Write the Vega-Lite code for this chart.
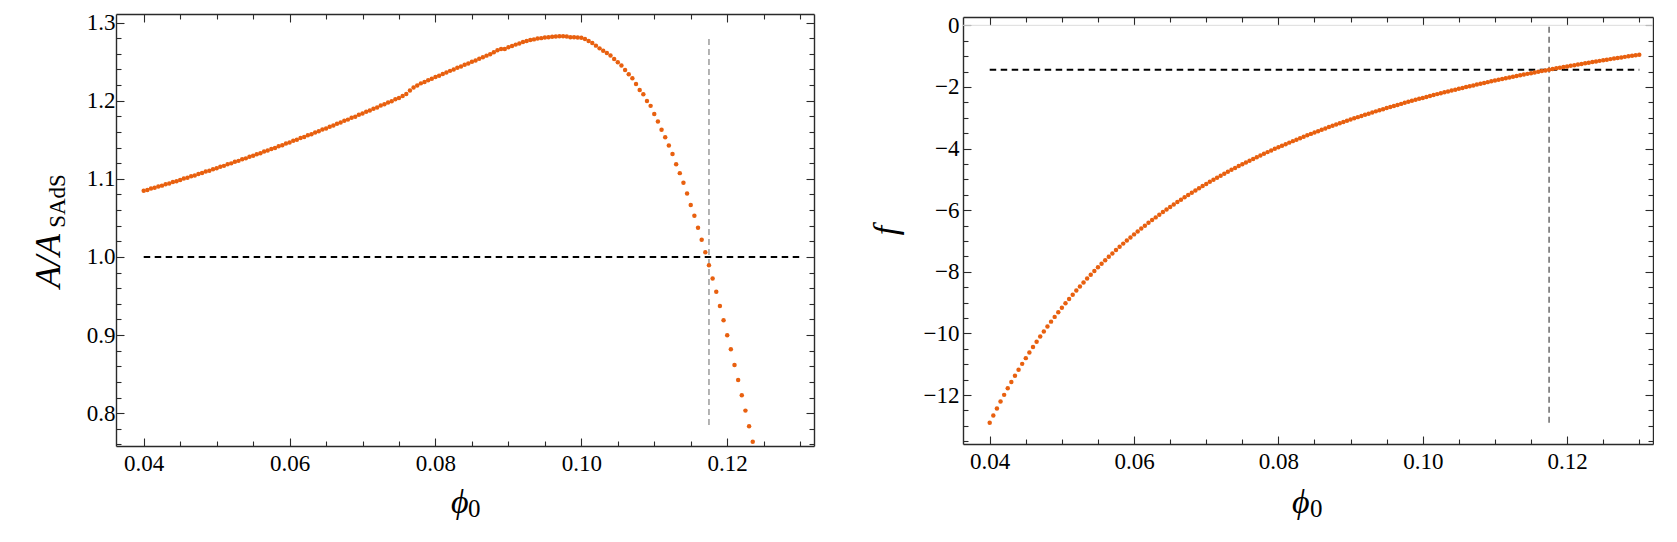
{
  "$schema": "https://vega.github.io/schema/vega-lite/v6.json",
  "background": "white",
  "padding": {"left": 30, "top": 11, "right": 0, "bottom": 0},
  "autosize": {"type": "pad"},
  "spacing": 149,
  "bounds": "flush",
  "config": {
    "view": {"stroke": null},
    "axis": {"labelFont": "Liberation Serif", "labelFontSize": 23, "labelColor": "#000000", "tickColor": "#2a2a2a", "domainColor": "#2a2a2a", "tickWidth": 1.1, "domainWidth": 1.4, "grid": false, "labelFlush": false, "labelOverlap": false}
  },
  "datasets": {
    "left": [
      {"phi":0.0400,"A":1.0847},{"phi":0.0405,"A":1.0858},{"phi":0.0410,"A":1.0876},{"phi":0.0415,"A":1.0885},{"phi":0.0420,"A":1.0903},{"phi":0.0425,"A":1.0913},{"phi":0.0430,"A":1.0932},{"phi":0.0435,"A":1.0941},{"phi":0.0440,"A":1.0960},{"phi":0.0445,"A":1.0970},
      {"phi":0.0450,"A":1.0985},{"phi":0.0455,"A":1.1003},{"phi":0.0460,"A":1.1014},{"phi":0.0465,"A":1.1033},{"phi":0.0470,"A":1.1044},{"phi":0.0475,"A":1.1063},{"phi":0.0480,"A":1.1074},{"phi":0.0485,"A":1.1093},{"phi":0.0490,"A":1.1104},{"phi":0.0495,"A":1.1123},
      {"phi":0.0500,"A":1.1135},{"phi":0.0505,"A":1.1155},{"phi":0.0510,"A":1.1166},{"phi":0.0515,"A":1.1186},{"phi":0.0520,"A":1.1198},{"phi":0.0525,"A":1.1218},{"phi":0.0530,"A":1.1230},{"phi":0.0535,"A":1.1250},{"phi":0.0540,"A":1.1262},{"phi":0.0545,"A":1.1282},
      {"phi":0.0550,"A":1.1295},{"phi":0.0555,"A":1.1315},{"phi":0.0560,"A":1.1328},{"phi":0.0565,"A":1.1349},{"phi":0.0570,"A":1.1362},{"phi":0.0575,"A":1.1383},{"phi":0.0580,"A":1.1396},{"phi":0.0585,"A":1.1417},{"phi":0.0590,"A":1.1430},{"phi":0.0595,"A":1.1452},
      {"phi":0.0600,"A":1.1465},{"phi":0.0605,"A":1.1487},{"phi":0.0610,"A":1.1500},{"phi":0.0615,"A":1.1522},{"phi":0.0620,"A":1.1536},{"phi":0.0625,"A":1.1558},{"phi":0.0630,"A":1.1572},{"phi":0.0635,"A":1.1594},{"phi":0.0640,"A":1.1608},{"phi":0.0645,"A":1.1631},
      {"phi":0.0650,"A":1.1645},{"phi":0.0655,"A":1.1668},{"phi":0.0660,"A":1.1682},{"phi":0.0665,"A":1.1705},{"phi":0.0670,"A":1.1720},{"phi":0.0675,"A":1.1743},{"phi":0.0680,"A":1.1758},{"phi":0.0685,"A":1.1781},{"phi":0.0690,"A":1.1796},{"phi":0.0695,"A":1.1820},
      {"phi":0.0700,"A":1.1835},{"phi":0.0705,"A":1.1859},{"phi":0.0710,"A":1.1874},{"phi":0.0715,"A":1.1898},{"phi":0.0720,"A":1.1914},{"phi":0.0725,"A":1.1938},{"phi":0.0730,"A":1.1954},{"phi":0.0735,"A":1.1978},{"phi":0.0740,"A":1.1994},{"phi":0.0745,"A":1.2019},
      {"phi":0.0750,"A":1.2035},{"phi":0.0755,"A":1.2059},{"phi":0.0760,"A":1.2085},{"phi":0.0765,"A":1.2130},{"phi":0.0770,"A":1.2168},{"phi":0.0775,"A":1.2196},{"phi":0.0780,"A":1.2222},{"phi":0.0785,"A":1.2240},{"phi":0.0790,"A":1.2262},{"phi":0.0795,"A":1.2280},
      {"phi":0.0800,"A":1.2303},{"phi":0.0805,"A":1.2320},{"phi":0.0810,"A":1.2343},{"phi":0.0815,"A":1.2360},{"phi":0.0820,"A":1.2382},{"phi":0.0825,"A":1.2399},{"phi":0.0830,"A":1.2421},{"phi":0.0835,"A":1.2438},{"phi":0.0840,"A":1.2460},{"phi":0.0845,"A":1.2477},
      {"phi":0.0850,"A":1.2499},{"phi":0.0855,"A":1.2516},{"phi":0.0860,"A":1.2538},{"phi":0.0865,"A":1.2555},{"phi":0.0870,"A":1.2577},{"phi":0.0875,"A":1.2594},{"phi":0.0880,"A":1.2620},{"phi":0.0885,"A":1.2645},{"phi":0.0890,"A":1.2662},{"phi":0.0895,"A":1.2663},
      {"phi":0.0900,"A":1.2685},{"phi":0.0905,"A":1.2700},{"phi":0.0910,"A":1.2718},{"phi":0.0915,"A":1.2733},{"phi":0.0920,"A":1.2752},{"phi":0.0925,"A":1.2763},{"phi":0.0930,"A":1.2776},{"phi":0.0935,"A":1.2785},{"phi":0.0940,"A":1.2795},{"phi":0.0945,"A":1.2801},
      {"phi":0.0950,"A":1.2809},{"phi":0.0955,"A":1.2813},{"phi":0.0960,"A":1.2820},{"phi":0.0965,"A":1.2821},{"phi":0.0970,"A":1.2825},{"phi":0.0975,"A":1.2824},{"phi":0.0980,"A":1.2822},{"phi":0.0985,"A":1.2813},{"phi":0.0990,"A":1.2812},{"phi":0.0995,"A":1.2808},
      {"phi":0.1000,"A":1.2805},{"phi":0.1005,"A":1.2790},{"phi":0.1010,"A":1.2765},{"phi":0.1015,"A":1.2738},{"phi":0.1020,"A":1.2705},{"phi":0.1025,"A":1.2670},{"phi":0.1030,"A":1.2640},{"phi":0.1035,"A":1.2610},{"phi":0.1040,"A":1.2580},{"phi":0.1045,"A":1.2535},
      {"phi":0.1050,"A":1.2492},{"phi":0.1055,"A":1.2450},{"phi":0.1060,"A":1.2394},{"phi":0.1065,"A":1.2339},{"phi":0.1070,"A":1.2288},{"phi":0.1075,"A":1.2215},{"phi":0.1080,"A":1.2138},{"phi":0.1085,"A":1.2083},{"phi":0.1090,"A":1.1997},{"phi":0.1095,"A":1.1934},
      {"phi":0.1100,"A":1.1831},{"phi":0.1105,"A":1.1734},{"phi":0.1110,"A":1.1627},{"phi":0.1115,"A":1.1533},{"phi":0.1120,"A":1.1427},{"phi":0.1125,"A":1.1318},{"phi":0.1130,"A":1.1188},{"phi":0.1135,"A":1.1073},{"phi":0.1140,"A":1.0949},{"phi":0.1145,"A":1.0813},
      {"phi":0.1150,"A":1.0664},{"phi":0.1155,"A":1.0527},{"phi":0.1160,"A":1.0373},{"phi":0.1165,"A":1.0220},{"phi":0.1170,"A":1.0059},{"phi":0.1175,"A":0.9893},{"phi":0.1180,"A":0.9725},{"phi":0.1185,"A":0.9555},{"phi":0.1190,"A":0.9372},{"phi":0.1195,"A":0.9190},
      {"phi":0.1200,"A":0.8997},{"phi":0.1205,"A":0.8818},{"phi":0.1210,"A":0.8618},{"phi":0.1215,"A":0.8426},{"phi":0.1220,"A":0.8230},{"phi":0.1225,"A":0.8033},{"phi":0.1230,"A":0.7834},{"phi":0.1235,"A":0.7634}
    ],
    "right": [
      {"phi":0.0400,"f":-12.900},{"phi":0.0405,"f":-12.664},{"phi":0.0410,"f":-12.435},{"phi":0.0415,"f":-12.212},{"phi":0.0420,"f":-11.995},{"phi":0.0425,"f":-11.783},{"phi":0.0430,"f":-11.577},{"phi":0.0435,"f":-11.376},{"phi":0.0440,"f":-11.180},{"phi":0.0445,"f":-10.989},
      {"phi":0.0450,"f":-10.803},{"phi":0.0455,"f":-10.621},{"phi":0.0460,"f":-10.444},{"phi":0.0465,"f":-10.271},{"phi":0.0470,"f":-10.102},{"phi":0.0475,"f":-9.937},{"phi":0.0480,"f":-9.775},{"phi":0.0485,"f":-9.618},{"phi":0.0490,"f":-9.464},{"phi":0.0495,"f":-9.313},
      {"phi":0.0500,"f":-9.166},{"phi":0.0505,"f":-9.022},{"phi":0.0510,"f":-8.881},{"phi":0.0515,"f":-8.744},{"phi":0.0520,"f":-8.609},{"phi":0.0525,"f":-8.477},{"phi":0.0530,"f":-8.347},{"phi":0.0535,"f":-8.221},{"phi":0.0540,"f":-8.097},{"phi":0.0545,"f":-7.975},
      {"phi":0.0550,"f":-7.856},{"phi":0.0555,"f":-7.740},{"phi":0.0560,"f":-7.625},{"phi":0.0565,"f":-7.513},{"phi":0.0570,"f":-7.403},{"phi":0.0575,"f":-7.295},{"phi":0.0580,"f":-7.190},{"phi":0.0585,"f":-7.086},{"phi":0.0590,"f":-6.984},{"phi":0.0595,"f":-6.884},
      {"phi":0.0600,"f":-6.786},{"phi":0.0605,"f":-6.690},{"phi":0.0610,"f":-6.596},{"phi":0.0615,"f":-6.503},{"phi":0.0620,"f":-6.412},{"phi":0.0625,"f":-6.322},{"phi":0.0630,"f":-6.234},{"phi":0.0635,"f":-6.148},{"phi":0.0640,"f":-6.063},{"phi":0.0645,"f":-5.980},
      {"phi":0.0650,"f":-5.897},{"phi":0.0655,"f":-5.817},{"phi":0.0660,"f":-5.738},{"phi":0.0665,"f":-5.660},{"phi":0.0670,"f":-5.583},{"phi":0.0675,"f":-5.508},{"phi":0.0680,"f":-5.433},{"phi":0.0685,"f":-5.360},{"phi":0.0690,"f":-5.289},{"phi":0.0695,"f":-5.218},
      {"phi":0.0700,"f":-5.148},{"phi":0.0705,"f":-5.080},{"phi":0.0710,"f":-5.013},{"phi":0.0715,"f":-4.946},{"phi":0.0720,"f":-4.881},{"phi":0.0725,"f":-4.817},{"phi":0.0730,"f":-4.753},{"phi":0.0735,"f":-4.691},{"phi":0.0740,"f":-4.630},{"phi":0.0745,"f":-4.569},
      {"phi":0.0750,"f":-4.510},{"phi":0.0755,"f":-4.451},{"phi":0.0760,"f":-4.393},{"phi":0.0765,"f":-4.336},{"phi":0.0770,"f":-4.280},{"phi":0.0775,"f":-4.224},{"phi":0.0780,"f":-4.169},{"phi":0.0785,"f":-4.116},{"phi":0.0790,"f":-4.063},{"phi":0.0795,"f":-4.010},
      {"phi":0.0800,"f":-3.959},{"phi":0.0805,"f":-3.908},{"phi":0.0810,"f":-3.857},{"phi":0.0815,"f":-3.808},{"phi":0.0820,"f":-3.759},{"phi":0.0825,"f":-3.711},{"phi":0.0830,"f":-3.663},{"phi":0.0835,"f":-3.616},{"phi":0.0840,"f":-3.570},{"phi":0.0845,"f":-3.524},
      {"phi":0.0850,"f":-3.479},{"phi":0.0855,"f":-3.435},{"phi":0.0860,"f":-3.391},{"phi":0.0865,"f":-3.347},{"phi":0.0870,"f":-3.304},{"phi":0.0875,"f":-3.262},{"phi":0.0880,"f":-3.220},{"phi":0.0885,"f":-3.179},{"phi":0.0890,"f":-3.138},{"phi":0.0895,"f":-3.098},
      {"phi":0.0900,"f":-3.058},{"phi":0.0905,"f":-3.019},{"phi":0.0910,"f":-2.980},{"phi":0.0915,"f":-2.942},{"phi":0.0920,"f":-2.904},{"phi":0.0925,"f":-2.867},{"phi":0.0930,"f":-2.830},{"phi":0.0935,"f":-2.793},{"phi":0.0940,"f":-2.757},{"phi":0.0945,"f":-2.722},
      {"phi":0.0950,"f":-2.687},{"phi":0.0955,"f":-2.652},{"phi":0.0960,"f":-2.617},{"phi":0.0965,"f":-2.583},{"phi":0.0970,"f":-2.550},{"phi":0.0975,"f":-2.516},{"phi":0.0980,"f":-2.483},{"phi":0.0985,"f":-2.451},{"phi":0.0990,"f":-2.419},{"phi":0.0995,"f":-2.387},
      {"phi":0.1000,"f":-2.356},{"phi":0.1005,"f":-2.325},{"phi":0.1010,"f":-2.294},{"phi":0.1015,"f":-2.263},{"phi":0.1020,"f":-2.233},{"phi":0.1025,"f":-2.204},{"phi":0.1030,"f":-2.174},{"phi":0.1035,"f":-2.145},{"phi":0.1040,"f":-2.116},{"phi":0.1045,"f":-2.088},
      {"phi":0.1050,"f":-2.060},{"phi":0.1055,"f":-2.032},{"phi":0.1060,"f":-2.004},{"phi":0.1065,"f":-1.977},{"phi":0.1070,"f":-1.950},{"phi":0.1075,"f":-1.923},{"phi":0.1080,"f":-1.897},{"phi":0.1085,"f":-1.870},{"phi":0.1090,"f":-1.844},{"phi":0.1095,"f":-1.819},
      {"phi":0.1100,"f":-1.793},{"phi":0.1105,"f":-1.768},{"phi":0.1110,"f":-1.743},{"phi":0.1115,"f":-1.719},{"phi":0.1120,"f":-1.694},{"phi":0.1125,"f":-1.670},{"phi":0.1130,"f":-1.646},{"phi":0.1135,"f":-1.622},{"phi":0.1140,"f":-1.599},{"phi":0.1145,"f":-1.576},
      {"phi":0.1150,"f":-1.553},{"phi":0.1155,"f":-1.530},{"phi":0.1160,"f":-1.507},{"phi":0.1165,"f":-1.485},{"phi":0.1170,"f":-1.463},{"phi":0.1175,"f":-1.441},{"phi":0.1180,"f":-1.419},{"phi":0.1185,"f":-1.397},{"phi":0.1190,"f":-1.376},{"phi":0.1195,"f":-1.355},
      {"phi":0.1200,"f":-1.334},{"phi":0.1205,"f":-1.313},{"phi":0.1210,"f":-1.293},{"phi":0.1215,"f":-1.272},{"phi":0.1220,"f":-1.252},{"phi":0.1225,"f":-1.232},{"phi":0.1230,"f":-1.212},{"phi":0.1235,"f":-1.193},{"phi":0.1240,"f":-1.173},{"phi":0.1245,"f":-1.154},
      {"phi":0.1250,"f":-1.135},{"phi":0.1255,"f":-1.116},{"phi":0.1260,"f":-1.097},{"phi":0.1265,"f":-1.078},{"phi":0.1270,"f":-1.060},{"phi":0.1275,"f":-1.042},{"phi":0.1280,"f":-1.024},{"phi":0.1285,"f":-1.006},{"phi":0.1290,"f":-0.988},{"phi":0.1295,"f":-0.970},
      {"phi":0.1300,"f":-0.953}
    ]
  },
  "hconcat": [
    {
      "width": 698,
      "height": 432,
      "resolve": {"axis": {"x": "independent", "y": "independent"}},
      "layer": [
        {
          "data": {"values": [{"x1": 0.04, "x2": 0.13, "y": 1.0}]},
          "mark": {"type": "rule", "color": "#000000", "strokeWidth": 2, "strokeDash": [6.5, 4.5]},
          "encoding": {
            "x": {"field": "x1", "type": "quantitative", "scale": {"domain": [0.0362, 0.1319], "nice": false, "zero": false},
                  "axis": {"orient": "bottom", "values": [0.045,0.05,0.055,0.065,0.07,0.075,0.085,0.09,0.095,0.105,0.11,0.115,0.125,0.13], "labels": false, "tickSize": -5, "domain": false, "title": null}},
            "x2": {"field": "x2"},
            "y": {"field": "y", "type": "quantitative", "scale": {"domain": [0.758, 1.311], "nice": false, "zero": false},
                  "axis": {"orient": "left", "values": [0.76,0.78,0.82,0.84,0.86,0.88,0.92,0.94,0.96,0.98,1.02,1.04,1.06,1.08,1.12,1.14,1.16,1.18,1.22,1.24,1.26,1.28], "labels": false, "tickSize": -5, "domain": false, "title": null}}
          }
        },
        {
          "data": {"values": [{"x": 0.1175, "y1": 0.785, "y2": 1.28}]},
          "mark": {"type": "rule", "color": "#8c8c8c", "strokeWidth": 1.3, "strokeDash": [6, 4]},
          "encoding": {
            "x": {"field": "x", "type": "quantitative", "scale": {"domain": [0.0362, 0.1319], "nice": false, "zero": false},
                  "axis": {"orient": "top", "values": [0.04,0.06,0.08,0.1,0.12], "labels": false, "tickSize": -8, "domain": true, "title": null}},
            "y": {"field": "y1", "type": "quantitative", "scale": {"domain": [0.758, 1.311], "nice": false, "zero": false},
                  "axis": {"orient": "right", "values": [0.8,0.9,1.0,1.1,1.2,1.3], "labels": false, "tickSize": -8, "domain": true, "title": null}},
            "y2": {"field": "y2"}
          }
        },
        {
          "data": {"name": "left"},
          "mark": {"type": "circle", "size": 20, "opacity": 1, "color": "#E8600F"},
          "encoding": {
            "x": {"field": "phi", "type": "quantitative", "scale": {"domain": [0.0362, 0.1319], "nice": false, "zero": false},
                  "axis": {"orient": "bottom", "values": [0.04,0.06,0.08,0.1,0.12], "format": ".2f", "tickSize": -8, "labelPadding": 14.5, "domain": true, "title": null}},
            "y": {"field": "A", "type": "quantitative", "scale": {"domain": [0.758, 1.311], "nice": false, "zero": false},
                  "axis": {"orient": "left", "values": [0.8,0.9,1.0,1.1,1.2,1.3], "format": ".1f", "tickSize": -8, "labelPadding": 9, "domain": true, "title": null}}
          }
        },
        {
          "data": {"values": [{}]},
          "mark": {"type": "text", "text": "A/A", "font": "Liberation Serif", "fontStyle": "italic", "fontSize": 36, "angle": 270, "align": "center", "baseline": "alphabetic", "color": "#000000"},
          "encoding": {
            "x": {"datum": 0.028522, "type": "quantitative", "scale": {"domain": [0.0362, 0.1319], "nice": false, "zero": false},
                  "axis": {"orient": "top", "values": [0.045,0.05,0.055,0.065,0.07,0.075,0.085,0.09,0.095,0.105,0.11,0.115,0.125,0.13], "labels": false, "tickSize": -5, "domain": false, "title": null}},
            "y": {"datum": 0.99482, "type": "quantitative", "scale": {"domain": [0.758, 1.311], "nice": false, "zero": false},
                  "axis": {"orient": "right", "values": [0.76,0.78,0.82,0.84,0.86,0.88,0.92,0.94,0.96,0.98,1.02,1.04,1.06,1.08,1.12,1.14,1.16,1.18,1.22,1.24,1.26,1.28], "labels": false, "tickSize": -5, "domain": false, "title": null}}
          }
        },
        {
          "data": {"values": [{}]},
          "mark": {"type": "text", "text": "SAdS", "font": "Liberation Serif", "fontSize": 23, "angle": 270, "align": "center", "baseline": "alphabetic", "color": "#000000"},
          "encoding": {
            "x": {"datum": 0.029208, "type": "quantitative", "axis": null},
            "y": {"datum": 1.07163, "type": "quantitative", "axis": null}
          }
        },
        {
          "data": {"values": [{}]},
          "mark": {"type": "text", "text": "ϕ", "font": "Liberation Serif", "fontStyle": "italic", "fontSize": 34, "align": "center", "baseline": "alphabetic", "color": "#000000"},
          "encoding": {
            "x": {"datum": 0.083324, "type": "quantitative", "axis": null},
            "y": {"datum": 0.6716, "type": "quantitative", "axis": null}
          }
        },
        {
          "data": {"values": [{}]},
          "mark": {"type": "text", "text": "0", "font": "Liberation Serif", "fontSize": 25, "align": "left", "baseline": "alphabetic", "color": "#000000"},
          "encoding": {
            "x": {"datum": 0.084462, "type": "quantitative", "axis": null},
            "y": {"datum": 0.66673, "type": "quantitative", "axis": null}
          }
        }
      ]
    },
    {
      "spacing": 0,
      "bounds": "flush",
      "vconcat": [
        {
          "width": 690,
          "height": 3,
          "data": {"values": [{}]},
          "mark": {"type": "point", "opacity": 0},
          "encoding": {}
        },
        {
          "width": 690,
          "height": 427,
          "resolve": {"axis": {"x": "independent", "y": "independent"}},
          "layer": [
            {
              "data": {"values": [{}]},
              "mark": {"type": "rule", "color": "#dcdcdc", "strokeWidth": 1},
              "encoding": {
                "y": {"datum": 0, "type": "quantitative", "scale": {"domain": [-13.59, 0.27], "nice": false, "zero": false}, "axis": null}
              }
            },
            {
              "data": {"values": [{"x1": 0.04, "x2": 0.13, "y": -1.44}]},
              "mark": {"type": "rule", "color": "#000000", "strokeWidth": 2, "strokeDash": [6.5, 4.5]},
              "encoding": {
                "x": {"field": "x1", "type": "quantitative", "scale": {"domain": [0.0363, 0.1319], "nice": false, "zero": false},
                      "axis": {"orient": "bottom", "values": [0.045,0.05,0.055,0.065,0.07,0.075,0.085,0.09,0.095,0.105,0.11,0.115,0.125,0.13], "labels": false, "tickSize": -5, "domain": false, "title": null}},
                "x2": {"field": "x2"},
                "y": {"field": "y", "type": "quantitative", "scale": {"domain": [-13.59, 0.27], "nice": false, "zero": false},
                      "axis": {"orient": "left", "values": [-13.5,-13,-12.5,-11.5,-11,-10.5,-9.5,-9,-8.5,-7.5,-7,-6.5,-5.5,-5,-4.5,-3.5,-3,-2.5,-1.5,-1,-0.5], "labels": false, "tickSize": -5, "domain": false, "title": null}}
              }
            },
            {
              "data": {"values": [{"x": 0.1175, "y1": -12.9, "y2": 0}]},
              "mark": {"type": "rule", "color": "#444444", "strokeWidth": 1.2, "strokeDash": [6, 4]},
              "encoding": {
                "x": {"field": "x", "type": "quantitative", "scale": {"domain": [0.0363, 0.1319], "nice": false, "zero": false},
                      "axis": {"orient": "top", "values": [0.04,0.06,0.08,0.1,0.12], "labels": false, "tickSize": -8, "domain": true, "title": null}},
                "y": {"field": "y1", "type": "quantitative", "scale": {"domain": [-13.59, 0.27], "nice": false, "zero": false},
                      "axis": {"orient": "right", "values": [-12,-10,-8,-6,-4,-2,0], "labels": false, "tickSize": -8, "domain": true, "title": null}},
                "y2": {"field": "y2"}
              }
            },
            {
              "data": {"name": "right"},
              "mark": {"type": "circle", "size": 20, "opacity": 1, "color": "#E8600F"},
              "encoding": {
                "x": {"field": "phi", "type": "quantitative", "scale": {"domain": [0.0363, 0.1319], "nice": false, "zero": false},
                      "axis": {"orient": "bottom", "values": [0.04,0.06,0.08,0.1,0.12], "format": ".2f", "tickSize": -8, "labelPadding": 14.5, "domain": true, "title": null}},
                "y": {"field": "f", "type": "quantitative", "scale": {"domain": [-13.59, 0.27], "nice": false, "zero": false},
                      "axis": {"orient": "left", "values": [-12,-10,-8,-6,-4,-2,0], "format": "d", "tickSize": -8, "labelPadding": 12, "domain": true, "title": null}}
              }
            },
            {
              "data": {"values": [{}]},
              "mark": {"type": "text", "text": "f", "font": "Liberation Serif", "fontStyle": "italic", "fontSize": 34, "angle": 270, "align": "center", "baseline": "alphabetic", "color": "#000000"},
              "encoding": {
                "x": {"datum": 0.027156, "type": "quantitative", "scale": {"domain": [0.0363, 0.1319], "nice": false, "zero": false},
                      "axis": {"orient": "top", "values": [0.045,0.05,0.055,0.065,0.07,0.075,0.085,0.09,0.095,0.105,0.11,0.115,0.125,0.13], "labels": false, "tickSize": -5, "domain": false, "title": null}},
                "y": {"datum": -6.6596, "type": "quantitative", "scale": {"domain": [-13.59, 0.27], "nice": false, "zero": false},
                      "axis": {"orient": "right", "values": [-13.5,-13,-12.5,-11.5,-11,-10.5,-9.5,-9,-8.5,-7.5,-7,-6.5,-5.5,-5,-4.5,-3.5,-3,-2.5,-1.5,-1,-0.5], "labels": false, "tickSize": -5, "domain": false, "title": null}}
              }
            },
            {
              "data": {"values": [{}]},
              "mark": {"type": "text", "text": "ϕ", "font": "Liberation Serif", "fontStyle": "italic", "fontSize": 34, "align": "center", "baseline": "alphabetic", "color": "#000000"},
              "encoding": {
                "x": {"datum": 0.083102, "type": "quantitative", "axis": null},
                "y": {"datum": -15.845, "type": "quantitative", "axis": null}
              }
            },
            {
              "data": {"values": [{}]},
              "mark": {"type": "text", "text": "0", "font": "Liberation Serif", "fontSize": 25, "align": "left", "baseline": "alphabetic", "color": "#000000"},
              "encoding": {
                "x": {"datum": 0.084377, "type": "quantitative", "axis": null},
                "y": {"datum": -15.968, "type": "quantitative", "axis": null}
              }
            }
          ]
        }
      ]
    }
  ]
}
